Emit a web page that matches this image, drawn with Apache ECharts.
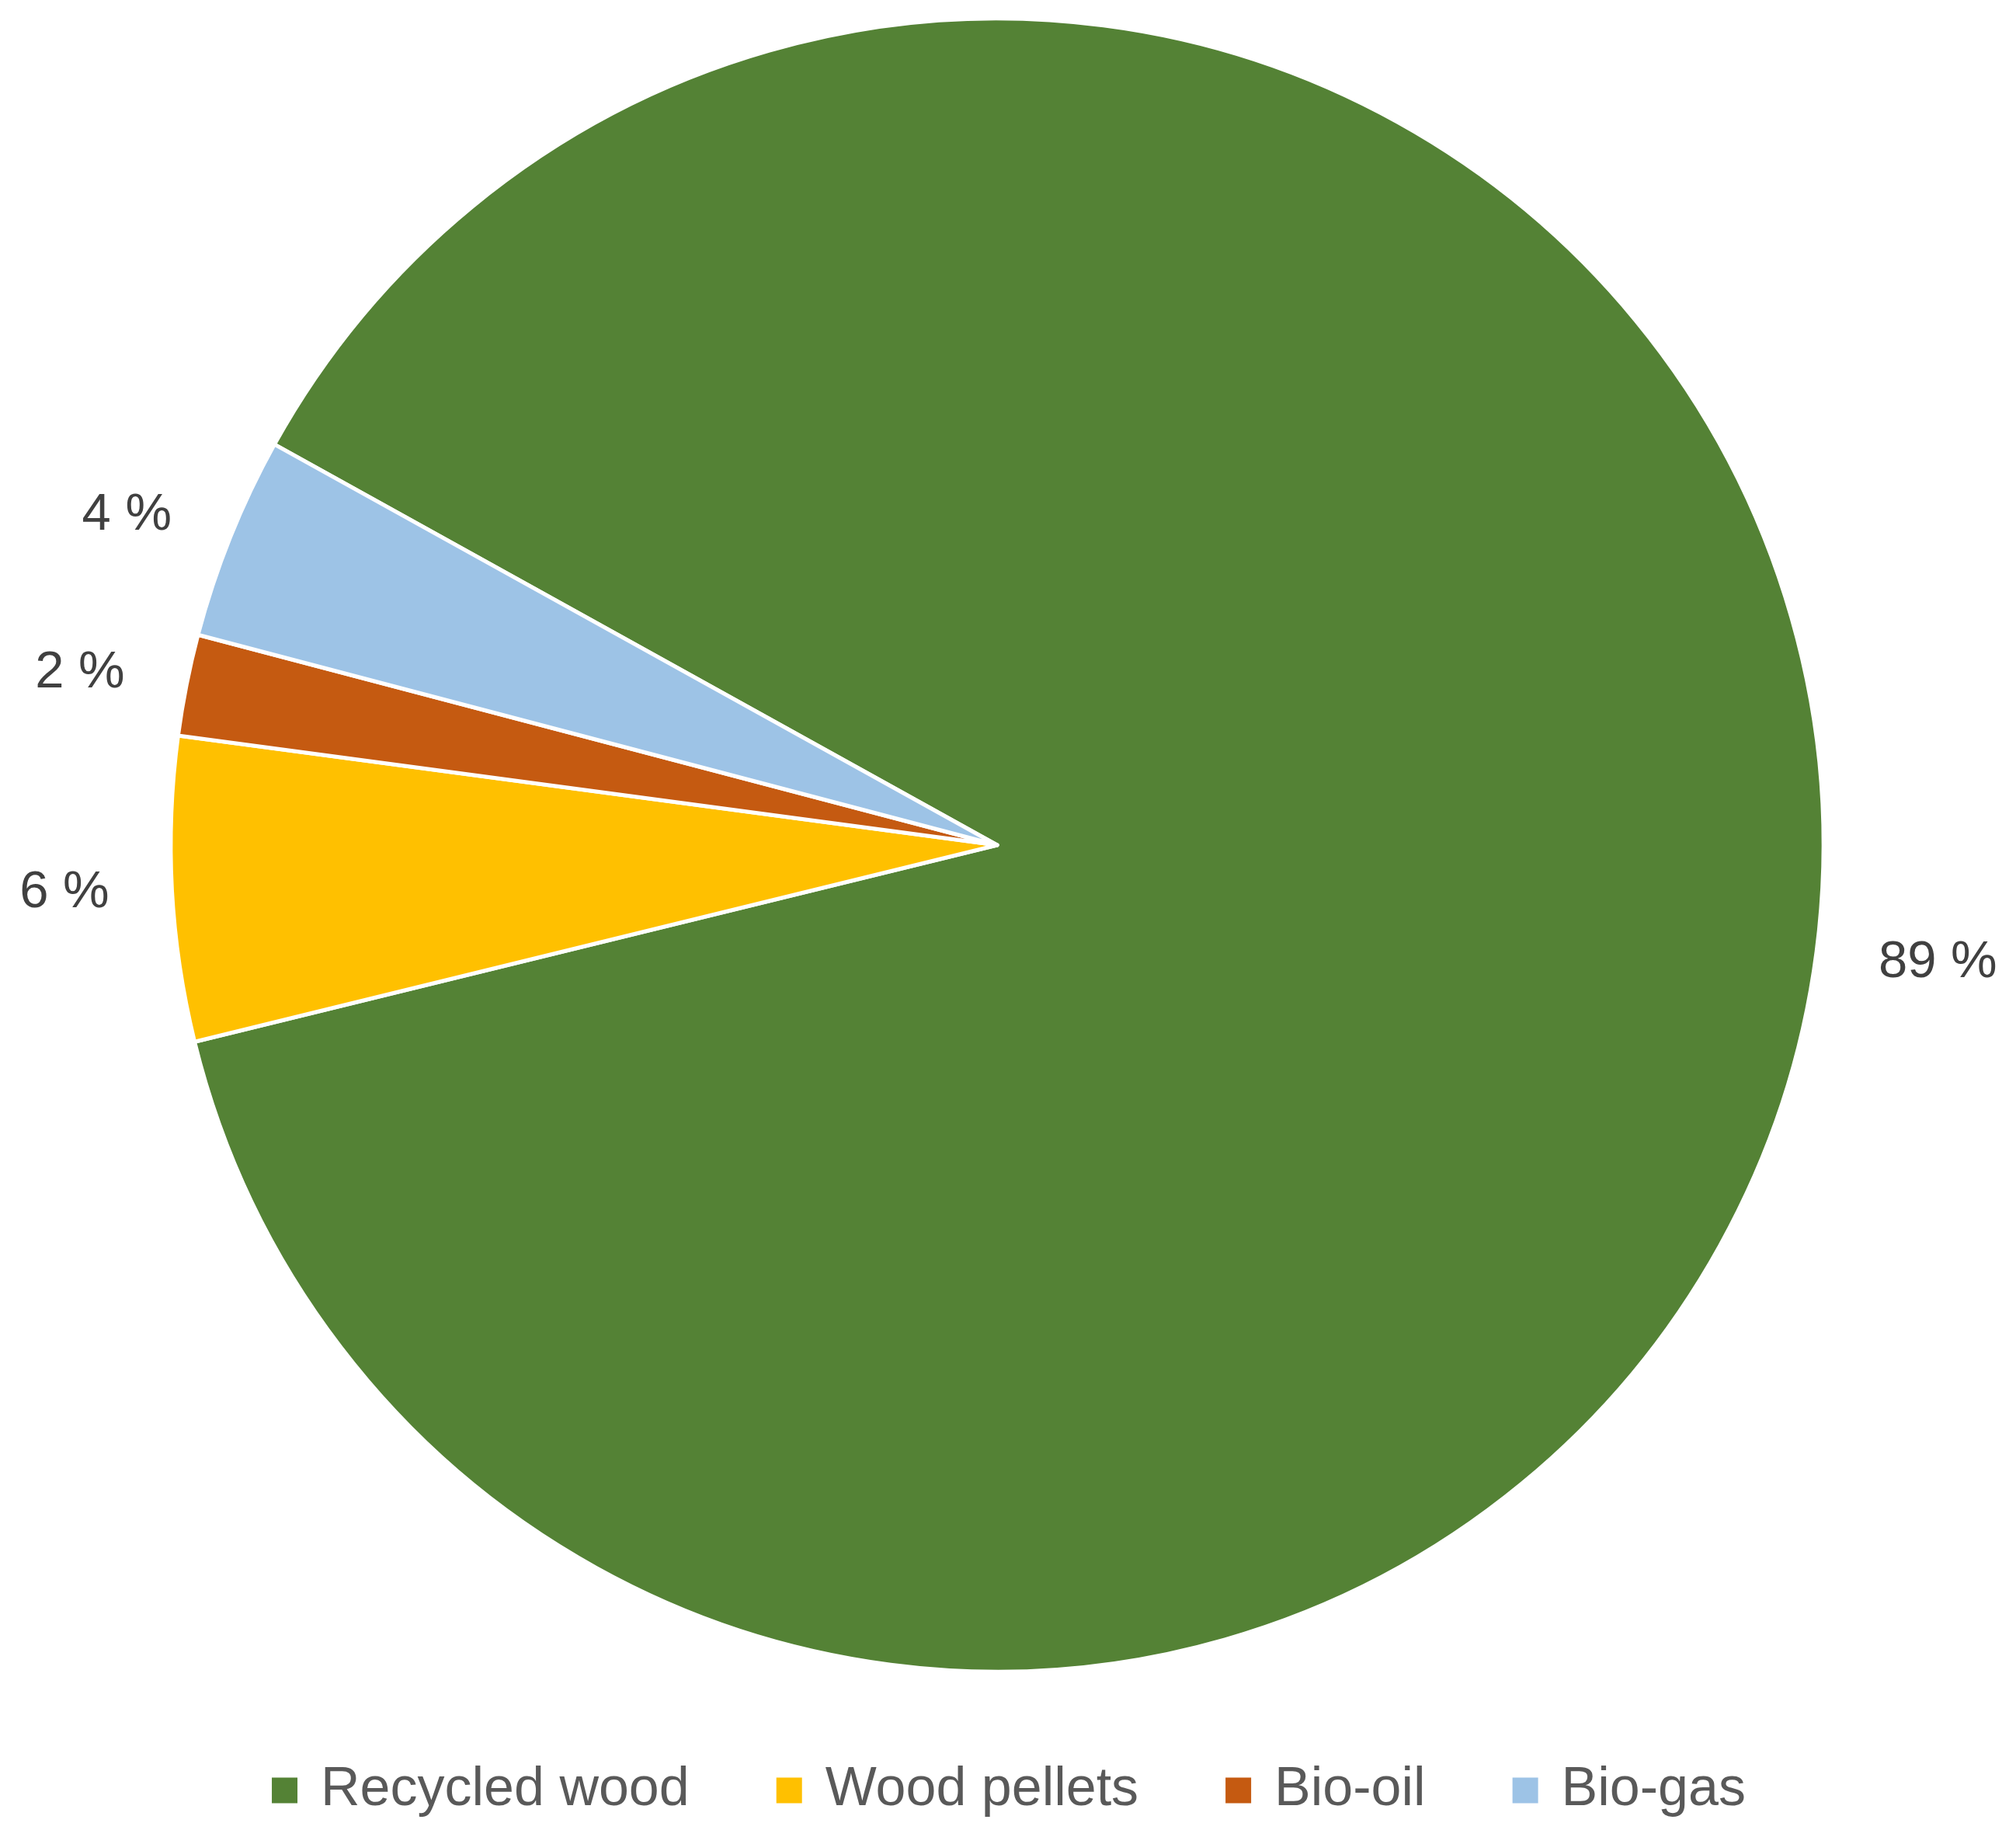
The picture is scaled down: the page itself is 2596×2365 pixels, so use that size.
<!DOCTYPE html>
<html>
<head>
<meta charset="utf-8">
<script src="https://cdn.jsdelivr.net/npm/echarts@6/dist/echarts.min.js"></script>
<style>
html,body{margin:0;padding:0;background:#fff;}
#chart{width:2596px;height:2365px;}
</style>
</head>
<body>
<div id="chart"></div>
<script>
const categories = ['Recycled wood', 'Wood pellets', 'Bio-oil', 'Bio-gas'];
const values = [89, 6, 2, 4];

const chart = echarts.init(document.getElementById('chart'), null, {renderer: 'canvas'});
const option = {
  animation: false,
  backgroundColor: '#ffffff',
  color: ['#548235', '#FFC000', '#C55A11', '#9DC3E6'],
  legend: {
    left: 'center',
    top: 2260,
    icon: 'rect',
    itemWidth: 35,
    itemHeight: 35,
    itemGap: 110,
    textStyle: {
      fontFamily: 'Liberation Sans',
      fontSize: 70,
      lineHeight: 80,
      color: '#595959',
      padding: [0, 0, 0, 24]
    },
    data: categories
  },
  series: [{
    type: 'pie',
    center: [1284, 1088],
    radius: 1064,
    startAngle: 151,
    clockwise: true,
    avoidLabelOverlap: false,
    itemStyle: {borderColor: '#ffffff', borderWidth: 5},
    label: {
      show: true,
      position: 'outside',
      formatter: '{c} %',
      fontFamily: 'Liberation Sans',
      fontSize: 67,
      color: '#404040',
      distanceToLabelLine: 5
    },
    labelLine: {show: false, length: 76, length2: 0},
    emphasis: {disabled: true},
    data: categories.map((c, i) => ({name: c, value: values[i]}))
  }]
};
chart.setOption(option);
</script>
</body>
</html>
